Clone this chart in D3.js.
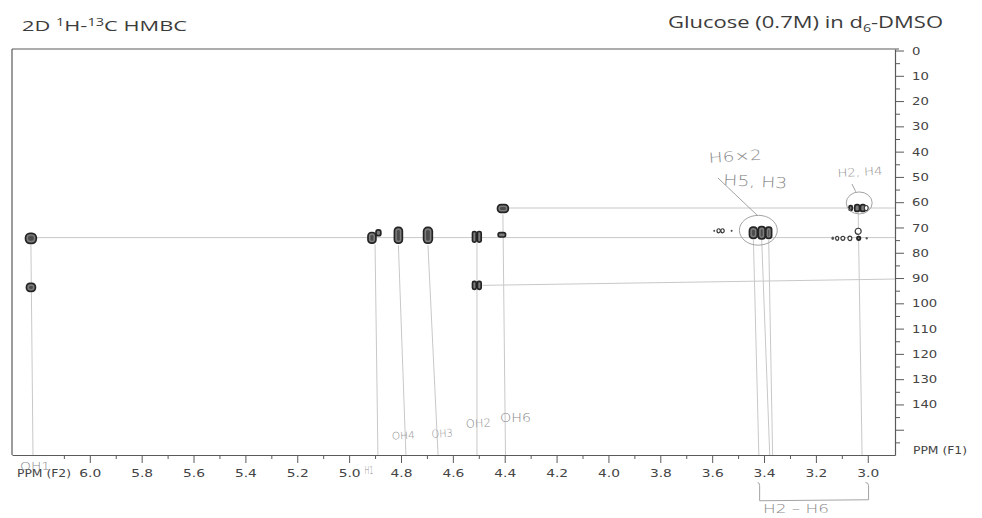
<!DOCTYPE html>
<html>
<head>
<meta charset="utf-8">
<script src="https://cdn.jsdelivr.net/npm/d3@7"></script>
<style>
  html, body { margin: 0; padding: 0; background: #fff; }
  svg { display: block; }
</style>
</head>
<body>
<svg id="chart" width="982" height="518"></svg>
<script>
// ---- axis ticks ---------------------------------------------------------
// 1H shift axis (F2), ppm
const f2Labels = [6.0, 5.8, 5.6, 5.4, 5.2, 5.0, 4.8, 4.6, 4.4, 4.2, 4.0, 3.8, 3.6, 3.4, 3.2, 3.0];
const f2Minor = [6.1, 5.9, 5.7, 5.5, 5.3, 5.1, 4.9, 4.7, 4.5, 4.3, 4.1, 3.9, 3.7, 3.5, 3.3, 3.1];
// 13C shift axis (F1), ppm
const f1Labels = [0, 10, 20, 30, 40, 50, 60, 70, 80, 90, 100, 110, 120, 130, 140];
const f1Major = [0, 10, 20, 30, 40, 50, 60, 70, 80, 90, 100, 110, 120, 130, 140, 150];
const f1Minor = [5, 15, 25, 35, 45, 55, 65, 75, 85, 95, 105, 115, 125, 135, 145, 155];

// ---- HMBC cross-peak components -----------------------------------------
const peakGroup  = ["OH1", "OH1", "H1", "H1", "OH4", "OH3", "OH2", "OH2", "OH2", "OH2", "OH6", "OH6",
                    "minor", "minor", "minor", "minor",
                    "H5/H3", "H5/H3", "H5/H3",
                    "H2/H4", "H2/H4", "H2/H4", "H2/H4",
                    "H2/H4b", "H2/H4b", "H2/H4b", "H2/H4b", "H2/H4b", "H2/H4b", "H2/H4b"];
const peakH      = [6.227, 6.227, 4.912, 4.887, 4.810, 4.696, 4.517, 4.498, 4.517, 4.498, 4.407, 4.411,
                    3.592, 3.575, 3.560, 3.525,
                    3.441, 3.409, 3.382,
                    3.066, 3.041, 3.019, 3.006,
                    3.037, 3.135, 3.118, 3.096, 3.069, 3.035, 3.004];
const peakC      = [74.3, 93.7, 74.1, 72.1, 73.1, 73.1, 73.7, 73.7, 92.9, 92.9, 62.5, 72.9,
                    71.3, 71.3, 71.3, 71.3,
                    72.1, 72.1, 72.1,
                    62.3, 62.3, 62.3, 62.3,
                    71.5, 74.3, 74.3, 74.3, 74.3, 74.3, 74.3];
// linewidths along each dimension, ppm
const peakWidthH = [0.048, 0.041, 0.037, 0.025, 0.037, 0.040, 0.021, 0.021, 0.021, 0.021, 0.048, 0.035,
                    0.008, 0.013, 0.013, 0.008,
                    0.037, 0.033, 0.029,
                    0.019, 0.025, 0.025, 0.015,
                    0.023, 0.010, 0.012, 0.015, 0.015, 0.020, 0.008];
const peakWidthC = [4.6, 3.8, 4.9, 3.0, 6.9, 6.9, 4.9, 4.9, 3.8, 3.8, 3.8, 2.4,
                    0.9, 1.6, 1.6, 0.9,
                    5.1, 5.5, 5.1,
                    2.6, 3.4, 3.4, 2.0,
                    2.4, 1.4, 1.6, 1.6, 1.8, 2.0, 1.0];
// number of contour levels above the plotted floor
const peakLevels = [3, 3, 3, 2, 3, 3, 2, 2, 2, 2, 3, 2,
                    0, 1, 1, 0,
                    3, 3, 3,
                    2, 3, 3, 1,
                    1, 0, 1, 1, 1, 2, 0];

// ---- assignment guide lines ---------------------------------------------
// vertical: from a peak down to the F2 axis
const vGuideTopH    = [6.227, 4.900, 4.810, 4.696, 4.507, 4.407, 3.441, 3.409, 3.382, 3.037];
const vGuideBottomH = [6.219, 4.889, 4.781, 4.657, 4.507, 4.397, 3.420, 3.378, 3.367, 3.022];
const vGuideTopC    = [76.7, 76.7, 77.0, 77.0, 76.0, 64.8, 75.0, 75.0, 75.0, 64.2];
// horizontal: from a peak across to the F1 axis
const hGuideFromH = [6.205, 4.390, 4.485];
const hGuideC     = [74.0, 62.3, 92.9];
const hGuideEndC  = [74.0, 62.3, 90.4];

// ---- scales -------------------------------------------------------------
const x = d3.scaleLinear().domain([6.30, 2.895]).range([12, 895]);
const y = d3.scaleLinear().domain([-0.6, 160]).range([49, 455]);

const svg = d3.select("#chart");
const pencil = "#8a8a8a";

// widen text horizontally to the wide lettering of the plot
function widen(sel, k) {
  sel.each(function () {
    const L = this.getComputedTextLength();
    this.setAttribute("textLength", (L * k).toFixed(1));
    this.setAttribute("lengthAdjust", "spacingAndGlyphs");
  });
}

// ---- titles -------------------------------------------------------------
const t1 = svg.append("text")
  .attr("x", 22).attr("y", 31)
  .attr("font-family", "'Open Sans', 'Liberation Sans', sans-serif")
  .attr("font-size", 15).attr("fill", "#3c3c3c");
t1.append("tspan").text("2D ");
t1.append("tspan").text("1").attr("font-size", 10).attr("dy", -5);
t1.append("tspan").text("H-").attr("dy", 5);
t1.append("tspan").text("13").attr("font-size", 10).attr("dy", -5);
t1.append("tspan").text("C HMBC").attr("dy", 5);
t1.attr("textLength", 165).attr("lengthAdjust", "spacingAndGlyphs");

const t2 = svg.append("text")
  .attr("x", 668).attr("y", 28)
  .attr("font-family", "'Open Sans', 'Liberation Sans', sans-serif")
  .attr("font-size", 17).attr("fill", "#3c3c3c");
t2.append("tspan").text("Glucose (0.7M) in d");
t2.append("tspan").text("6").attr("font-size", 11).attr("dy", 4);
t2.append("tspan").text("-DMSO").attr("dy", -4);
t2.attr("textLength", 275).attr("lengthAdjust", "spacingAndGlyphs");

// ---- frame --------------------------------------------------------------
const frame = svg.append("g").attr("stroke", "#5a5a5a").attr("stroke-width", 1.2).attr("fill", "none");
frame.append("line").attr("x1", x.range()[0]).attr("x2", x.range()[1] + 4).attr("y1", y.range()[0]).attr("y2", y.range()[0]);
frame.append("line").attr("x1", x.range()[0]).attr("x2", x.range()[0]).attr("y1", y.range()[0]).attr("y2", y.range()[1]);

// ---- guide lines --------------------------------------------------------
const guides = svg.append("g").attr("stroke", "#c8c8c8").attr("stroke-width", 1).attr("fill", "none");
guides.selectAll("line.v").data(vGuideTopH).join("line").attr("class", "v")
  .attr("x1", d => x(d)).attr("y1", (d, i) => y(vGuideTopC[i]))
  .attr("x2", (d, i) => x(vGuideBottomH[i])).attr("y2", y(160));
guides.selectAll("line.h").data(hGuideFromH).join("line").attr("class", "h")
  .attr("x1", d => x(d)).attr("y1", (d, i) => y(hGuideC[i]))
  .attr("x2", x.range()[1]).attr("y2", (d, i) => y(hGuideEndC[i]));

// ---- cross peaks --------------------------------------------------------
const peaks = d3.range(peakH.length).map(i => ({
  g: peakGroup[i], h: peakH[i], c: peakC[i],
  w: Math.abs(x(peakH[i] + peakWidthH[i] / 2) - x(peakH[i] - peakWidthH[i] / 2)),
  ht: Math.abs(y(peakC[i] + peakWidthC[i] / 2) - y(peakC[i] - peakWidthC[i] / 2)),
  lv: peakLevels[i]
}));

const pg = svg.append("g");
peaks.forEach(p => {
  const node = pg.append("g").attr("transform", `translate(${x(p.h)},${y(p.c)})`);
  const box = (w, h, fill) => node.append("rect")
    .attr("x", -w / 2).attr("y", -h / 2).attr("width", w).attr("height", h)
    .attr("rx", Math.min(w, h) * 0.45).attr("ry", Math.min(w, h) * 0.45)
    .attr("fill", fill);
  if (p.lv === 0) {
    node.append("ellipse").attr("rx", p.w / 2).attr("ry", p.ht / 2).attr("fill", "#555");
  } else if (p.lv === 1) {
    node.append("ellipse").attr("rx", p.w / 2).attr("ry", p.ht / 2)
      .attr("fill", "#fff").attr("stroke", "#3a3a3a").attr("stroke-width", 1.2);
  } else {
    box(p.w, p.ht, "#242424");
    if (p.w > 3.5 && p.ht > 3.5) box(p.w - 3.4, p.ht - 3.4, "#7c7c7c");
    if (p.lv === 3 && p.w > 6.5 && p.ht > 6.5) box(p.w - 6.6, p.ht - 6.6, "#4c4c4c");
  }
});

// ---- F2 axis (bottom) ---------------------------------------------------
const axF2 = svg.append("g").attr("transform", `translate(0,${y.range()[1]})`);
axF2.call(d3.axisBottom(x).tickValues(f2Labels).tickSize(8).tickSizeOuter(0).tickFormat(d3.format(".1f")));
axF2.append("g").call(d3.axisBottom(x).tickValues(f2Minor).tickSize(4).tickFormat(""))
  .select(".domain").remove();
axF2.selectAll("path.domain").attr("stroke", "#5a5a5a").attr("stroke-width", 1.2);
axF2.selectAll(".tick line").attr("stroke", "#5a5a5a");
axF2.selectAll(".tick text")
  .attr("y", 22).attr("dy", 0)
  .attr("font-family", "'DejaVu Sans', Verdana, sans-serif")
  .attr("font-size", 11).attr("fill", "#444");
widen(axF2.selectAll(".tick text"), 1.25);

const f2Title = svg.append("text").attr("x", 17).attr("y", 477)
  .attr("font-family", "'DejaVu Sans', Verdana, sans-serif")
  .attr("font-size", 11).attr("fill", "#444").text("PPM (F2)");
widen(f2Title, 1.12);

// ---- F1 axis (right) ----------------------------------------------------
const axF1 = svg.append("g").attr("transform", `translate(${x.range()[1]},0)`);
axF1.call(d3.axisRight(y).tickValues(f1Major).tickSize(9).tickSizeOuter(0)
  .tickFormat(d => f1Labels.includes(d) ? d : ""));
axF1.append("g").call(d3.axisRight(y).tickValues(f1Minor).tickSize(5).tickFormat(""))
  .select(".domain").remove();
axF1.selectAll("path.domain").attr("stroke", "#5a5a5a").attr("stroke-width", 1.2);
axF1.selectAll(".tick line").attr("stroke", "#5a5a5a");
axF1.selectAll(".tick text")
  .attr("x", 17)
  .attr("font-family", "'DejaVu Sans', Verdana, sans-serif")
  .attr("font-size", 11).attr("fill", "#444");
widen(axF1.selectAll(".tick text"), 1.2);

const f1Title = svg.append("text").attr("x", 913).attr("y", 454)
  .attr("font-family", "'DejaVu Sans', Verdana, sans-serif")
  .attr("font-size", 11).attr("fill", "#444").text("PPM (F1)");
widen(f1Title, 1.12);

// ---- pencilled assignments ----------------------------------------------
const notes = [
  { t: "OH1",     h: 6.269, c: 165.8, s: 11, w: 30, r: 0 },
  { t: "H1",      h: 4.941, c: 167.4, s: 10, w: 9,  r: 0 },
  { t: "OH4",     h: 4.835, c: 153.9, s: 10, w: 23, r: -3 },
  { t: "OH3",     h: 4.681, c: 153.2, s: 11, w: 21, r: -3 },
  { t: "OH2",     h: 4.549, c: 149.2, s: 11, w: 25, r: -3 },
  { t: "OH6",     h: 4.418, c: 146.8, s: 12, w: 31, r: 0 },
  { t: "H6×2",    h: 3.612, c: 44.5,  s: 14, w: 53, r: -4 },
  { t: "H5, H3",  h: 3.558, c: 53.2,  s: 15, w: 64, r: 3 },
  { t: "H2, H4",  h: 3.116, c: 50.0,  s: 11, w: 45, r: -3 },
  { t: "H2 – H6", h: 3.404, c: 182.8, s: 13, w: 66, r: 0 }
];
const pen = svg.append("g")
  .attr("font-family", "'DejaVu Sans', sans-serif").attr("font-weight", 200)
  .attr("fill", pencil);
notes.forEach(n => {
  const px = x(n.h), py = y(n.c);
  pen.append("text").attr("x", px).attr("y", py)
    .attr("font-size", n.s)
    .attr("transform", `rotate(${n.r},${px},${py})`)
    .attr("textLength", n.w).attr("lengthAdjust", "spacingAndGlyphs")
    .text(n.t);
});

const penLines = svg.append("g").attr("stroke", "#999").attr("stroke-width", 0.9).attr("fill", "none");
// ring round the H5/H3 group and its pointer
penLines.append("ellipse").attr("cx", x(3.422)).attr("cy", y(71.1))
  .attr("rx", x(3.422 - 0.073) - x(3.422)).attr("ry", y(71.1 + 5.9) - y(71.1));
penLines.append("line").attr("x1", x(3.578)).attr("y1", y(50.4)).attr("x2", x(3.424)).attr("y2", y(65.4));
// ring round the H2/H4 group and its pointer
penLines.append("ellipse").attr("cx", x(3.033)).attr("cy", y(60.3))
  .attr("rx", x(3.033 - 0.050) - x(3.033)).attr("ry", y(60.3 + 4.35) - y(60.3));
penLines.append("line").attr("x1", x(3.061)).attr("y1", y(52.8)).attr("x2", x(3.046)).attr("y2", y(55.9));
// bracket spanning the ring protons
const bL = x(3.417), bR = x(2.997), bT = y(170.9), bB = y(178.1);
penLines.append("path")
  .attr("d", `M${bL - 2},${bT} Q${bL},${bT} ${bL},${bT + 3} L${bL},${bB} L${bR},${bB - 1} L${bR},${bT + 3} Q${bR},${bT} ${bR - 3},${bT}`);
</script>
</body>
</html>
